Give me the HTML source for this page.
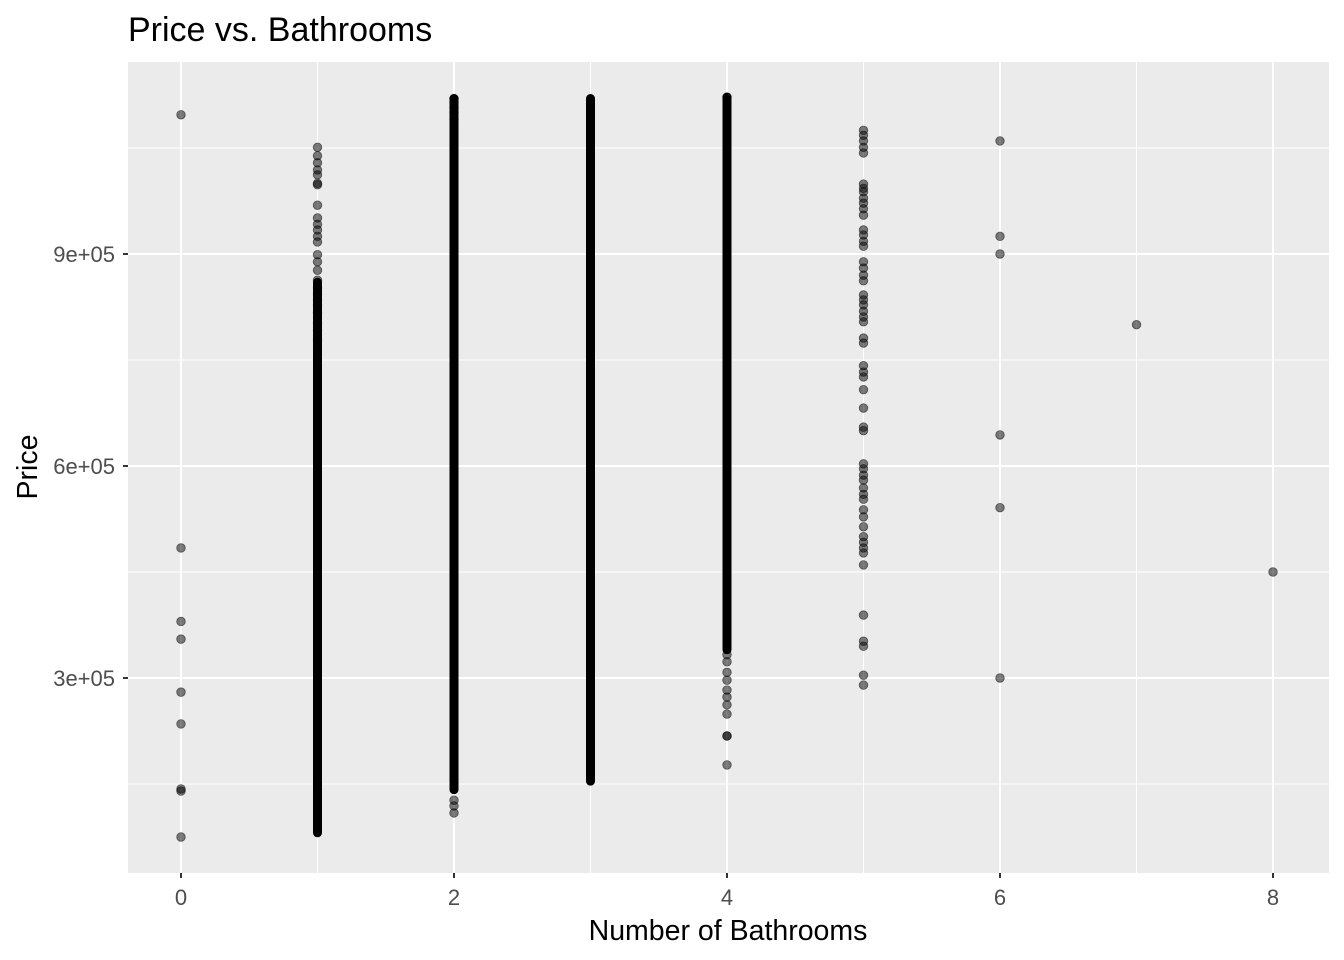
<!DOCTYPE html>
<html><head><meta charset="utf-8"><style>
body{margin:0;background:#fff;}
svg{display:block;font-family:"Liberation Sans",sans-serif;}
</style></head><body>
<svg id="chart" width="1344" height="960">
<text x="128" y="41" font-size="34" fill="#000">Price vs. Bathrooms</text>
<rect x="128" y="62" width="1201" height="811" fill="#EBEBEB"/>
<g id="grid"></g><g id="marks"></g><g id="axes"></g>
<text x="728" y="940" font-size="28.5" text-anchor="middle" fill="#000">Number of Bathrooms</text>
<text transform="translate(37,467) rotate(-90)" font-size="28.5" text-anchor="middle" fill="#000">Price</text>
</svg>
<script>
const xTicks=[0,2,4,6,8];
const yTicks=[300000,600000,900000];
const yTickLabels=["3e+05","6e+05","9e+05"];
const denseX=[1,2,3,4];
const denseMin=[81,142,154,340];
const denseMax=[860,1120,1120,1122];
const sparseX0=[1097,484,380,355,280,235,143,140,75];
const sparseX1=[1051,1039,1029,1019,1012,1000,998,969,951,942,934,925,917,899,889,877,863,852,843,835,828,817,802,792,778];
const sparseX2=[1120,1114,1107,1100,1090,127,119,109];
const sparseX4=[1122,333,323,308,297,283,273,262,249,218,218,177];
const sparseX5=[1075,1068,1060,1051,1043,999,993,988,979,972,964,955,934,927,918,911,889,880,870,862,842,835,828,819,811,804,781,774,742,733,726,708,682,655,650,603,596,587,580,569,560,553,538,528,514,500,492,484,477,460,389,352,345,304,290];
const sparseX6=[1060,925,900,644,541,300];
const sparseX7=[800];
const sparseX8=[450];
const NS="http://www.w3.org/2000/svg";
const xs=v=>181+v*136.5;
const ys=v=>678-(v-300000)*212/300000;
function mk(p,t,a){const e=document.createElementNS(NS,t);for(const k in a)e.setAttribute(k,a[k]);p.appendChild(e);return e;}
const grid=document.getElementById('grid'),marks=document.getElementById('marks'),axes=document.getElementById('axes');
for(let i=0;i<xTicks.length-1;i++){const g=mk(grid,'line',{x1:xs((xTicks[i]+xTicks[i+1])/2),x2:xs((xTicks[i]+xTicks[i+1])/2),y1:62,y2:873,stroke:'#fff','stroke-width':1});

}
[150000,450000,750000,1050000].forEach(v=>{const g=mk(grid,'line',{x1:128,x2:1329,y1:ys(v),y2:ys(v),stroke:'#fff','stroke-width':1});

});
xTicks.forEach(t=>{const g=mk(grid,'line',{x1:xs(t),x2:xs(t),y1:62,y2:873,stroke:'#fff','stroke-width':2});


const tk=mk(axes,'line',{x1:xs(t),x2:xs(t),y1:873,y2:878,stroke:'#333','stroke-width':2});


const tx=mk(axes,'text',{x:xs(t),y:905,'font-size':22,'text-anchor':'middle',fill:'#4D4D4D'});tx.textContent=t;

});
yTicks.forEach((t,i)=>{const g=mk(grid,'line',{x1:128,x2:1329,y1:ys(t),y2:ys(t),stroke:'#fff','stroke-width':2});


const tk=mk(axes,'line',{x1:123,x2:128,y1:ys(t),y2:ys(t),stroke:'#333','stroke-width':2});


const tx=mk(axes,'text',{x:115,y:ys(t)+8,'font-size':22,'text-anchor':'end',fill:'#4D4D4D'});tx.textContent=yTickLabels[i];

});
denseX.forEach((x,i)=>{const y1=ys(denseMax[i]*1000),y2=ys(denseMin[i]*1000);
const r=mk(marks,'rect',{x:xs(x)-4.5,y:y1-4.5,width:9,height:y2-y1+9,rx:4.5,fill:'#000'});

});
[[0,sparseX0],[1,sparseX1],[2,sparseX2],[4,sparseX4],[5,sparseX5],[6,sparseX6],[7,sparseX7],[8,sparseX8]].forEach(([x,arr])=>{
arr.forEach(v=>{const c=mk(marks,'circle',{cx:xs(x),cy:ys(v*1000),r:4.3,fill:'rgba(0,0,0,0.5)',stroke:'rgba(0,0,0,0.55)','stroke-width':0.8});

});});
</script>
</body></html>
